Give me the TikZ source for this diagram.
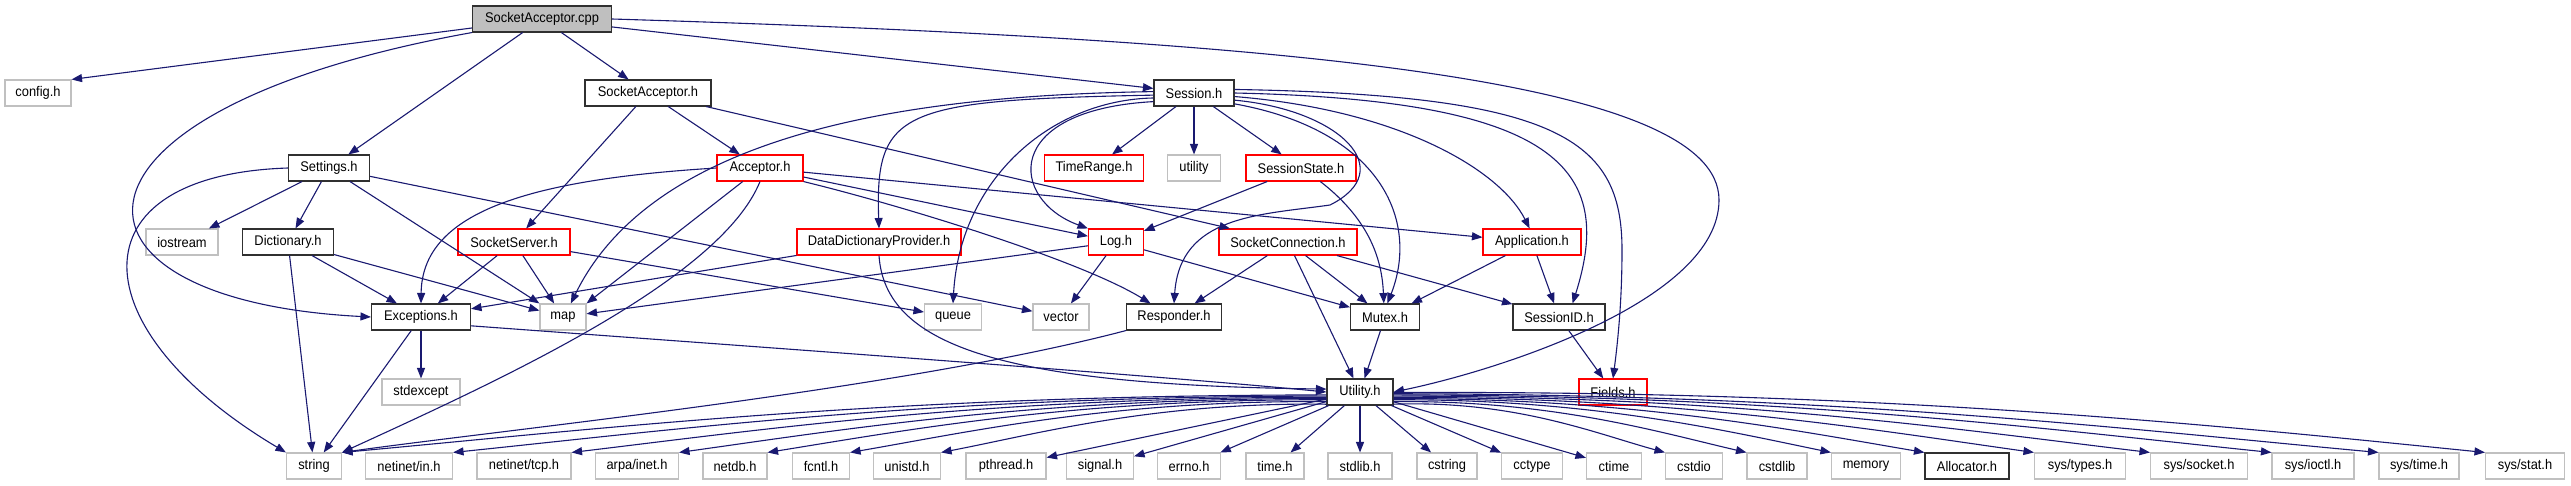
\documentclass[tikz,border=0pt]{standalone}
\usepackage{fontspec}
\setmainfont[FakeStretch=0.92]{Liberation Sans}
\usetikzlibrary{arrows.meta,calc}
\definecolor{edgec}{HTML}{191970}
\definecolor{grayb}{HTML}{C0C0C0}
\definecolor{rootfill}{HTML}{BFBFBF}
\definecolor{blkb}{HTML}{303030}
\begin{document}
\begin{tikzpicture}[x=1pt,y=-1pt,
  box/.style={draw, rectangle, minimum height=26pt, inner sep=0pt, font=\fontsize{14}{16}\selectfont, text=black},
  blk/.style={box, draw=blkb, line width=1.1pt},
  redb/.style={box, draw=red, line width=1.1pt},
  gry/.style={box, draw=grayb, line width=1.1pt},
  rootb/.style={box, draw=blkb, fill=rootfill, line width=1.1pt},
  dep/.style={draw=edgec, line width=1.1pt, -{Triangle[length=10.5pt,width=8pt]}}
]
\path[use as bounding box] (0,0) rectangle (2571,485);
% nodes
\node[rootb, minimum width=139pt] (cpp) at (542,19) {SocketAcceptor.cpp};
\node[gry, minimum width=66pt] (config) at (38,93) {config.h};
\node[blk, minimum width=126pt] (SAh) at (648,93) {SocketAcceptor.h};
\node[blk, minimum width=80pt] (Session) at (1194,93) {Session.h};
\node[blk, minimum width=81pt] (Settings) at (329,168) {Settings.h};
\node[redb, minimum width=86pt] (Acceptor) at (760,168) {Acceptor.h};
\node[redb, minimum width=99pt] (TimeRange) at (1094,168) {TimeRange.h};
\node[gry, minimum width=53pt] (utility) at (1194,168) {utility};
\node[redb, minimum width=110pt] (SessionState) at (1301,168) {SessionState.h};
\node[gry, minimum width=72pt] (iostream) at (182,242) {iostream};
\node[blk, minimum width=91pt] (Dictionary) at (288,242) {Dictionary.h};
\node[redb, minimum width=112pt] (SocketServer) at (514,242) {SocketServer.h};
\node[redb, minimum width=164pt] (DDP) at (879,242) {DataDictionaryProvider.h};
\node[redb, minimum width=55pt] (Log) at (1116,242) {Log.h};
\node[redb, minimum width=138pt] (SocketConnection) at (1288,242) {SocketConnection.h};
\node[redb, minimum width=98pt] (Application) at (1532,242) {Application.h};
\node[blk, minimum width=99pt] (Exceptions) at (421,317) {Exceptions.h};
\node[gry, minimum width=46pt] (map) at (563,317) {map};
\node[gry, minimum width=57pt] (queue) at (953,317) {queue};
\node[gry, minimum width=56pt] (vector) at (1061,317) {vector};
\node[blk, minimum width=95pt] (Responder) at (1174,317) {Responder.h};
\node[blk, minimum width=69pt] (Mutex) at (1385,317) {Mutex.h};
\node[blk, minimum width=92pt] (SessionID) at (1559,317) {SessionID.h};
\node[gry, minimum width=78pt] (stdexcept) at (421,392) {stdexcept};
\node[blk, minimum width=66pt] (Utility) at (1360,392) {Utility.h};
\node[redb, minimum width=68pt] (Fields) at (1613,392) {Fields.h};
% bottom row
\node[gry, minimum width=55pt] (string) at (314,466) {string};
\node[gry, minimum width=87pt] (netin) at (409,466) {netinet/in.h};
\node[gry, minimum width=94pt] (nettcp) at (524,466) {netinet/tcp.h};
\node[gry, minimum width=83pt] (arpa) at (637,466) {arpa/inet.h};
\node[gry, minimum width=64pt] (netdb) at (735,466) {netdb.h};
\node[gry, minimum width=57pt] (fcntl) at (821,466) {fcntl.h};
\node[gry, minimum width=67pt] (unistd) at (907,466) {unistd.h};
\node[gry, minimum width=80pt] (pthread) at (1006,466) {pthread.h};
\node[gry, minimum width=67pt] (signal) at (1100,466) {signal.h};
\node[gry, minimum width=63pt] (errno) at (1189,466) {errno.h};
\node[gry, minimum width=58pt] (timeh) at (1275,466) {time.h};
\node[gry, minimum width=64pt] (stdlib) at (1360,466) {stdlib.h};
\node[gry, minimum width=60pt] (cstring) at (1447,466) {cstring};
\node[gry, minimum width=61pt] (cctype) at (1532,466) {cctype};
\node[gry, minimum width=55pt] (ctime) at (1614,466) {ctime};
\node[gry, minimum width=57pt] (cstdio) at (1694,466) {cstdio};
\node[gry, minimum width=60pt] (cstdlib) at (1777,466) {cstdlib};
\node[gry, minimum width=69pt] (memory) at (1866,466) {memory};
\node[blk, minimum width=84pt] (Allocator) at (1967,466) {Allocator.h};
\node[gry, minimum width=91pt] (systypes) at (2080,466) {sys/types.h};
\node[gry, minimum width=97pt] (syssocket) at (2199,466) {sys/socket.h};
\node[gry, minimum width=82pt] (sysioctl) at (2313,466) {sys/ioctl.h};
\node[gry, minimum width=80pt] (systime) at (2419,466) {sys/time.h};
\node[gry, minimum width=79pt] (sysstat) at (2525,466) {sys/stat.h};
% edges from cpp
\draw[dep] (cpp) -- (config.north east);
\draw[dep] (cpp) -- (Settings);
\draw[dep] (cpp) -- (SAh);
\draw[dep] (cpp) -- (Session);
\draw[dep] (cpp.south west) .. controls (40,110) and (40,300) .. (Exceptions.west);
\draw[dep] (cpp.east) .. controls (1300,40) and (1719,80) .. (1719,200) .. controls (1719,300) and (1500,370) .. (Utility.east);
% SocketAcceptor.h
\draw[dep] (SAh) -- (Acceptor);
\draw[dep] (SAh) -- (SocketServer);
\draw[dep] (SAh) -- (SocketConnection);
% Settings.h
\draw[dep] (Settings) -- (iostream);
\draw[dep] (Settings) -- (Dictionary);
\draw[dep] (Settings) -- (map.north west);
\draw[dep] (Settings.west) .. controls (70,175) and (80,330) .. (string.north west);
\draw[dep] (Settings) -- (vector);
% Dictionary.h
\draw[dep] (Dictionary) -- (Exceptions);
\draw[dep] (Dictionary) -- (map);
\draw[dep] (Dictionary) -- (string);
% SocketServer.h
\draw[dep] (SocketServer) -- (Exceptions);
\draw[dep] (SocketServer) -- (map);
\draw[dep] (SocketServer) -- (queue);
% Acceptor.h
\draw[dep] (Acceptor.west) .. controls (520,180) and (422,215) .. (Exceptions.north);
\draw[dep] (Acceptor) -- (map.north east);
\draw[dep] (Acceptor.south) .. controls (720,280) and (500,380) .. (string.north east);
\draw[dep] (Acceptor) -- (Log);
\draw[dep] (Acceptor.south east) .. controls (900,205) and (1080,260) .. (Responder.150);
\draw[dep] (Acceptor) -- (Application);
% Session.h
\draw[dep] (Session) -- (TimeRange);
\draw[dep] (Session) -- (utility);
\draw[dep] (Session) -- (SessionState);
\draw[dep] (Session.178) .. controls (950,95) and (660,120) .. (map.60);
\draw[dep] (Session.183) .. controls (900,100) and (875,110) .. (DDP.north);
\draw[dep] (Session.187) .. controls (1050,100) and (960,180) .. (queue.north);
\draw[dep] (Session.192) .. controls (1000,110) and (1010,200) .. (Log.north west);
\draw[dep] (Session.-10) .. controls (1340,110) and (1400,170) .. (1330,205) .. controls (1260,215) and (1180,215) .. (Responder.north);
\draw[dep] (Session.-15) .. controls (1380,130) and (1420,220) .. (Mutex.80);
\draw[dep] (Session.-5) .. controls (1400,110) and (1500,170) .. (Application.100);
\draw[dep] (Session.0) .. controls (1560,100) and (1615,170) .. (SessionID.45);
\draw[dep] (Session.5) .. controls (1560,95) and (1622,140) .. (1622,250) .. controls (1622,300) and (1618,340) .. (Fields.north);
% SessionState.h
\draw[dep] (SessionState) -- (Log);
\draw[dep] (SessionState.-35) .. controls (1370,220) and (1382,260) .. (Mutex.95);
% DataDictionaryProvider.h
\draw[dep] (DDP) -- (Exceptions);
\draw[dep] (DDP.south) .. controls (885,345) and (1000,385) .. (Utility.175);
% Log.h
\draw[dep] (Log) -- (vector);
\draw[dep] (Log) -- (Mutex);
\draw[dep] (Log) -- (map);
% SocketConnection.h
\draw[dep] (SocketConnection) -- (Responder);
\draw[dep] (SocketConnection) -- (Mutex);
\draw[dep] (SocketConnection) -- (SessionID);
\draw[dep] (SocketConnection) -- (Utility);
% Application.h
\draw[dep] (Application) -- (Mutex);
\draw[dep] (Application) -- (SessionID);
% others
\draw[dep] (Mutex) -- (Utility);
\draw[dep] (SessionID) -- (Fields);
\draw[dep] (Responder.south west) .. controls (900,390) and (500,430) .. (string.north east);
\draw[dep] (Exceptions) -- (string);
\draw[dep] (Exceptions) -- (stdexcept);
\draw[dep] (Exceptions.-10) .. controls (800,350) and (1150,375) .. (Utility.180);
% Utility.h fan
\draw[dep] (Utility.185) .. controls (884,395) and (588,430) .. (string.north east);
\draw[dep] (Utility.187) .. controls (934,396) and (671,430) .. (netin.north east);
\draw[dep] (Utility.189) .. controls (987,397) and (760,430) .. (nettcp.north east);
\draw[dep] (Utility.191) .. controls (1035,398) and (840,430) .. (arpa.north east);
\draw[dep] (Utility.193) .. controls (1075,399) and (907,430) .. (netdb.north east);
\draw[dep] (Utility.196) .. controls (1112,400) and (969,432) .. (fcntl.north east);
\draw[dep] (Utility.200) .. controls (1153,402) and (1037,434) .. (unistd.north east);
\draw[dep] (Utility) -- (pthread);
\draw[dep] (Utility) -- (signal);
\draw[dep] (Utility) -- (errno);
\draw[dep] (Utility) -- (timeh);
\draw[dep] (Utility) -- (stdlib);
\draw[dep] (Utility) -- (cstring);
\draw[dep] (Utility) -- (cctype);
\draw[dep] (Utility) -- (ctime);
\draw[dep] (Utility.-20) .. controls (1515,400) and (1597,434) .. (cstdio.north west);
\draw[dep] (Utility.-16) .. controls (1552,400) and (1658,432) .. (cstdlib.north west);
\draw[dep] (Utility.-13) .. controls (1590,399) and (1722,430) .. (memory.north west);
\draw[dep] (Utility.-11) .. controls (1632,398) and (1792,430) .. (Allocator.north west);
\draw[dep] (Utility.-9) .. controls (1681,397) and (1874,430) .. (systypes.north west);
\draw[dep] (Utility.-7) .. controls (1734,396) and (1961,430) .. (syssocket.north west);
\draw[dep] (Utility.-5) .. controls (1789,395) and (2052,430) .. (sysioctl.north west);
\draw[dep] (Utility.-3) .. controls (1837,394) and (2133,430) .. (systime.north west);
\draw[dep] (Utility.-1) .. controls (1884,390) and (2212,425) .. (sysstat.north west);
\end{tikzpicture}
\end{document}
